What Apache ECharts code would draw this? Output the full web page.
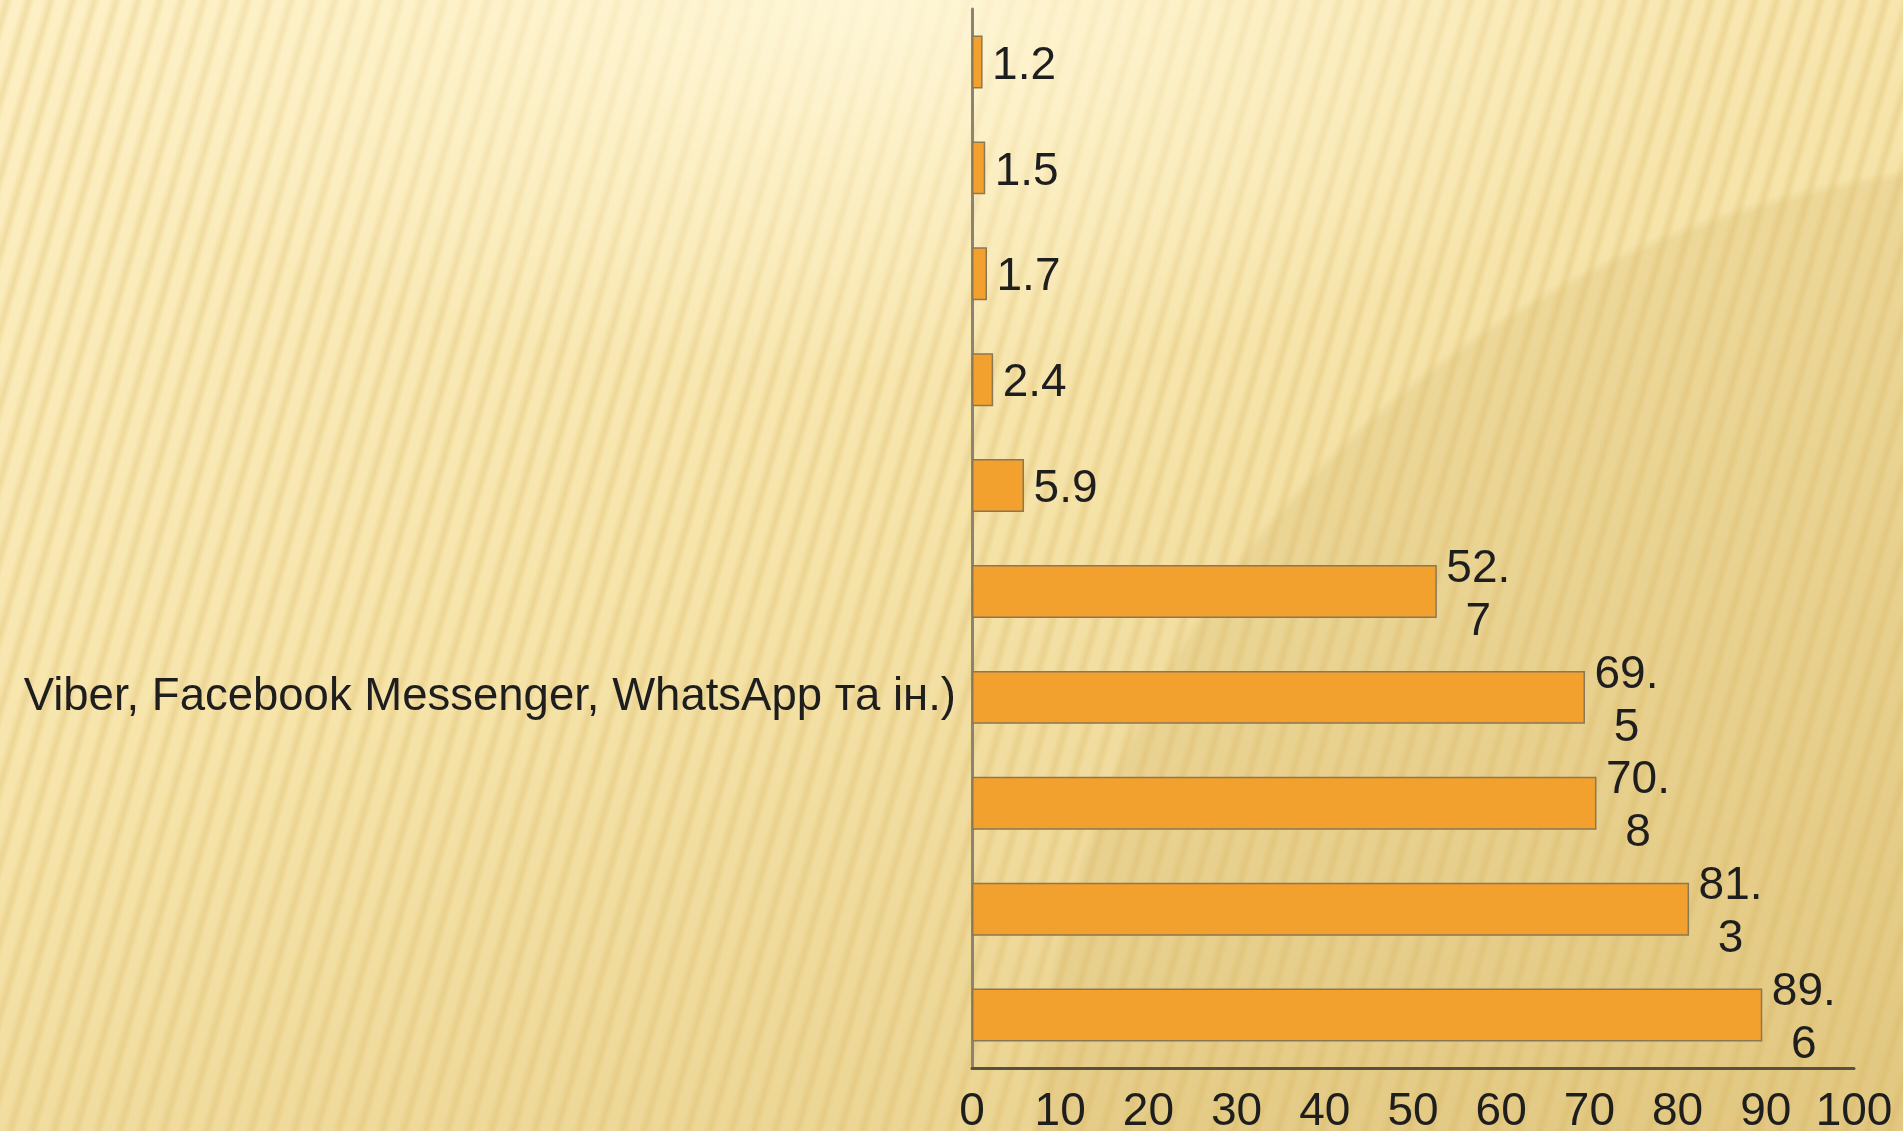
<!DOCTYPE html>
<html>
<head>
<meta charset="utf-8">
<title>bar</title>
<script src="https://cdn.jsdelivr.net/npm/echarts@6/dist/echarts.min.js"></script>
<style>
  html, body { margin: 0; padding: 0; }
  #main {
    width: 1903px;
    height: 1131px;
    /* фон слайда: світле сяйво, смужки, темніший диск праворуч, основний градієнт */
    background:
      radial-gradient(ellipse 850px 380px at 860px 0px, rgba(255,248,220,0.85) 0%, rgba(255,247,215,0.45) 45%, rgba(255,247,215,0) 100%),
      repeating-linear-gradient(106deg, rgba(212,174,86,0) 0px, rgba(212,174,86,0.28) 7px, rgba(212,174,86,0) 13px, rgba(212,174,86,0) 21px),
      radial-gradient(circle 1010px at 2040px 1170px, rgba(214,186,112,0.28) 0%, rgba(214,186,112,0.28) 99%, rgba(214,186,112,0) 100%),
      linear-gradient(160deg, #FDF0C4 0%, #F6E4AA 45%, #E6CD88 100%);
  }
</style>
</head>
<body>
<div id="main"></div>
<script>
// категорії зверху вниз (видно лише один підпис)
const categories = ['', '', '', '', '', '', 'Viber, Facebook Messenger, WhatsApp та ін.)', '', '', '']
// значення, %
const values = [1.2, 1.5, 1.7, 2.4, 5.9, 52.7, 69.5, 70.8, 81.3, 89.6]
// підписи шкали
const xTicks = [0, 10, 20, 30, 40, 50, 60, 70, 80, 90, 100]

const myChart = echarts.init(document.querySelector('#main'))

const font = 'Liberation Sans, Arial, sans-serif'

const option = {
  backgroundColor: 'transparent',
  animation: false,
  grid: {
    left: 972,
    right: 49,
    top: 9,
    bottom: 63,
    outerBoundsMode: 'none'
  },
  xAxis: {
    type: 'value',
    min: xTicks[0],
    max: xTicks[xTicks.length - 1],
    interval: xTicks[1] - xTicks[0],
    axisLine: {
      show: true,
      lineStyle: { color: '#55503f', width: 3 }
    },
    axisTick: { show: false },
    splitLine: { show: false },
    axisLabel: {
      fontSize: 46,
      fontFamily: font,
      color: '#1e1e1e',
      margin: 21
    }
  },
  yAxis: {
    type: 'category',
    inverse: true,
    data: categories,
    axisLine: {
      show: true,
      lineStyle: { color: '#8c8470', width: 3 }
    },
    axisTick: { show: false },
    axisLabel: {
      fontSize: 45.5,
      fontFamily: font,
      color: '#1e1e1e',
      margin: 16
    }
  },
  series: [
    {
      type: 'bar',
      data: values,
      barWidth: '50%',
      itemStyle: {
        color: '#F2A12E',
        borderColor: '#8a7756',
        borderWidth: 1.5
      },
      label: {
        show: true,
        position: 'right',
        distance: 9,
        offset: [0, 4],
        // довгі числа переносяться після крапки, як в оригіналі
        formatter: p => {
          const s = p.value.toFixed(1)
          if (p.value >= 10) {
            return '{v|' + s.slice(0, 3) + '}\n{v|' + s.slice(3) + '}'
          }
          return '{v|' + s + '}'
        },
        rich: {
          v: {
            width: 65,
            align: 'center',
            fontSize: 46,
            lineHeight: 53,
            fontFamily: font,
            color: '#1e1e1e'
          }
        }
      }
    }
  ]
}

myChart.setOption(option)
</script>
</body>
</html>
